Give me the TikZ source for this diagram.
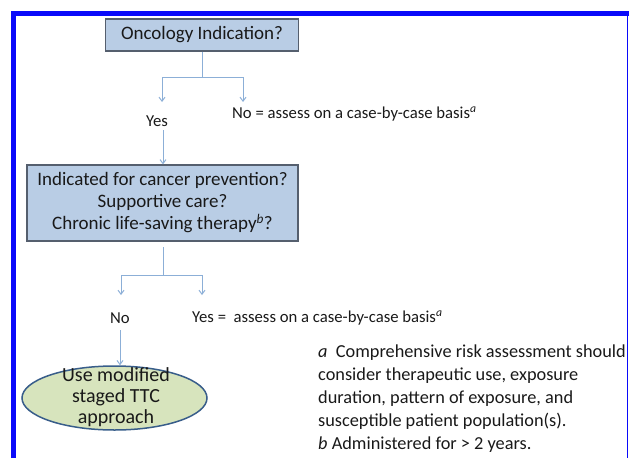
\documentclass[tikz,border=0pt]{standalone}
\usepackage{fontspec}
\setmainfont{Carlito}
\usetikzlibrary{arrows.meta,shapes.geometric}
\definecolor{boxfill}{RGB}{185,205,229}
\definecolor{boxdraw}{RGB}{85,95,110}
\definecolor{ellfill}{RGB}{215,228,189}
\definecolor{elldraw}{RGB}{56,93,138}
\definecolor{arrcol}{RGB}{140,175,215}
\definecolor{framecol}{RGB}{10,10,250}
\definecolor{txt}{RGB}{25,25,25}
\tikzset{
  qbox/.style={draw=boxdraw, fill=boxfill, line width=1.2pt, align=center, inner sep=0pt,
    font=\fontsize{19}{22}\selectfont, text=txt},
  lbl/.style={font=\fontsize{16.7}{20}\selectfont, text=txt, inner sep=0pt},
  conn/.style={draw=arrcol, line width=1pt},
  arr/.style={conn, -{Straight Barb[length=4pt,width=6pt]}},
  ell/.style={ellipse, draw=elldraw, fill=ellfill, line width=1.5pt, inner sep=0pt},
  note/.style={font=\fontsize{18.3}{23}\selectfont, text=txt, align=left, inner sep=0pt, anchor=north west}
}
\begin{document}
\begin{tikzpicture}[x=1pt,y=-1pt]
\useasboundingbox (0,0) rectangle (629,458);
% frame
\draw[framecol, line width=5pt] (13.5,458) -- (13.5,13.5) -- (629,13.5);
\draw[framecol, line width=1.5pt] (627.5,11) -- (627.5,458);
% boxes
\node[qbox, minimum width=193pt, minimum height=32pt] (box1) at (202,35) {Oncology Indication?};
\node[lbl] (yes1) at (157,121) {Yes};
\node[lbl, anchor=west] (no1) at (232,114) {No = assess on a case-by-case basis\textsuperscript{\textit{a}}};
\node[qbox, minimum width=271pt, minimum height=76pt] (box2) at (162.5,203)
  {Indicated for cancer prevention?\\Supportive care?\\Chronic life-saving therapy\textsuperscript{\textit{b}}?};
\node[lbl] (no2) at (120,318) {No};
\node[lbl, anchor=west] (yes2) at (192,318) {Yes =\ \ assess on a case-by-case basis\textsuperscript{\textit{a}}};
\node[ell, minimum width=185pt, minimum height=64pt] (ell) at (114.5,398) {};
\node[align=center, font=\fontsize{20}{21}\selectfont, text=txt, inner sep=0pt] (elltxt) at (116,397)
  {Use modified\\staged TTC\\approach};
\node[note] (fn) at (318,345) {\textit{a}\ \ Comprehensive risk assessment should\\consider therapeutic use, exposure\\duration, pattern of exposure, and\\susceptible patient population(s).\\\textit{b} Administered for > 2 years.};
% connectors
\coordinate (j1) at (box1.south |- 0,77);
\coordinate (t1) at (162,102);
\coordinate (t2) at (243,102);
\draw[conn] (box1.south) -- (j1);
\draw[arr] (j1) -| (t1);
\draw[arr] (j1) -| (t2);
\coordinate (s2) at (163,130);
\draw[arr] (s2) -- (s2 |- box2.north);
\coordinate (b2s) at (163,247);
\coordinate (j2) at (163,275);
\coordinate (t3) at (121,295);
\coordinate (t4) at (202,295);
\draw[conn] (b2s) -- (j2);
\draw[arr] (j2) -| (t3);
\draw[arr] (j2) -| (t4);
\coordinate (s3) at (120,330);
\draw[arr] (s3) -- (s3 |- ell.north);
\end{tikzpicture}
\end{document}
